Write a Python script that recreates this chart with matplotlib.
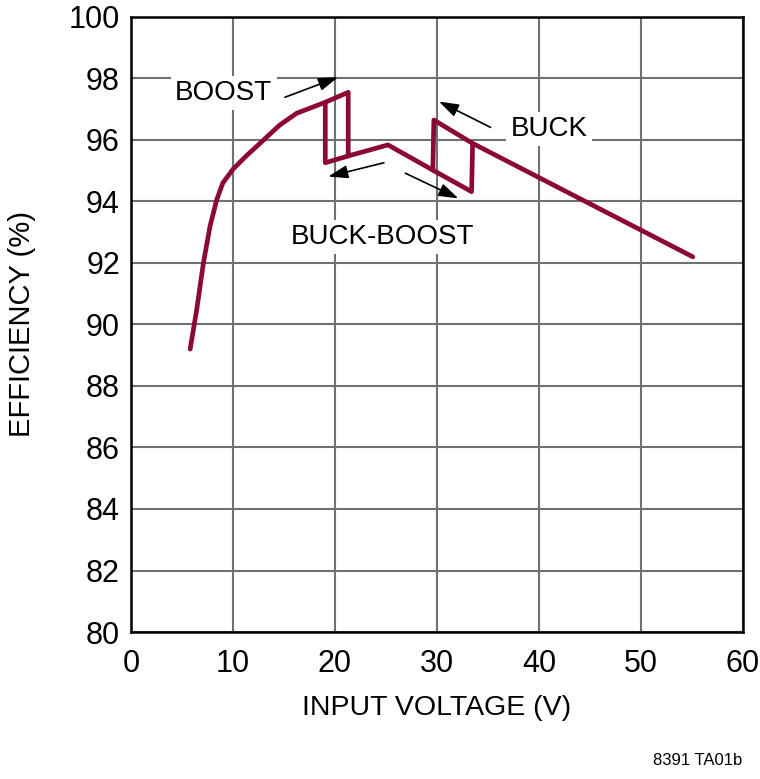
import matplotlib.pyplot as plt

plt.rcParams['font.family'] = ['Liberation Sans', 'DejaVu Sans']

# forward sweep: boost -> buck-boost -> buck
vin_fwd = [5.8, 6.45, 7.1, 7.75, 8.4, 9.0, 10.0, 11.2, 13.0, 14.6, 16.25, 17.9, 19.0, 21.3,
           21.3, 25.2, 29.6, 33.4, 33.5, 55.1]
eff_fwd = [89.2, 90.5, 92.0, 93.2, 94.05, 94.6, 95.05, 95.45, 96.0, 96.49, 96.87, 97.08, 97.22, 97.55,
           95.48, 95.84, 95.02, 94.32, 95.89, 92.2]

# reverse sweep pieces of the hysteresis loops
vin_rev1 = [19.05, 19.05, 21.3]
eff_rev1 = [97.22, 95.26, 95.48]
vin_rev2 = [29.6, 29.7, 33.5]
eff_rev2 = [95.02, 96.65, 95.89]

red = '#8c0a32'

fig = plt.figure(figsize=(7.6, 7.79), dpi=100)
ax = fig.add_axes([0.1724, 0.1887, 0.805, 0.7895])

for xs, ys in [(vin_fwd, eff_fwd), (vin_rev1, eff_rev1), (vin_rev2, eff_rev2)]:
    ax.plot(xs, ys, color=red, lw=3.4, solid_joinstyle='round', solid_capstyle='round', zorder=3)

ax.set_xlim(0, 60)
ax.set_ylim(80, 100)
ax.set_xticks(range(0, 61, 10))
ax.set_yticks(range(80, 101, 2))
ax.grid(True, color='#707070', lw=1.5)
ax.set_axisbelow(True)
ax.tick_params(length=0, labelsize=22)
ax.tick_params(axis='x', pad=12)
ax.tick_params(axis='y', pad=8)
for s in ax.spines.values():
    s.set_linewidth(1.8)

ax.set_xlabel('INPUT VOLTAGE (V)', fontsize=20.5, va='center')
ax.set_ylabel('EFFICIENCY (%)', fontsize=21, va='center')
ax.xaxis.set_label_coords(0.5, -0.124)
ax.yaxis.set_label_coords(-0.178, 0.5)

box = dict(facecolor='white', edgecolor='none', pad=3)
ax.text(9.1, 97.53, 'BOOST', fontsize=20, ha='center', va='center', bbox=box, zorder=2)
ax.text(41.0, 96.36, 'BUCK', fontsize=20, ha='center', va='center', bbox=box, zorder=2)
ax.text(24.7, 92.85, 'BUCK-BOOST', fontsize=20, ha='center', va='center', bbox=box, zorder=2)

arrows = [((15.1, 97.39), (20.3, 98.04)),
          ((24.8, 95.26), (19.34, 94.81)),
          ((26.9, 94.92), (32.1, 94.10)),
          ((35.26, 96.41), (30.2, 97.25))]
for start, end in arrows:
    ax.annotate('', xy=end, xytext=start,
                arrowprops=dict(arrowstyle='-|>,head_length=1.2,head_width=0.4', color='black', lw=1.2,
                                shrinkA=0, shrinkB=0), zorder=4)

fig.text(0.976, 0.014, '8391 TA01b', fontsize=12, ha='right', va='bottom')

fig.savefig('out.png', dpi=100)
